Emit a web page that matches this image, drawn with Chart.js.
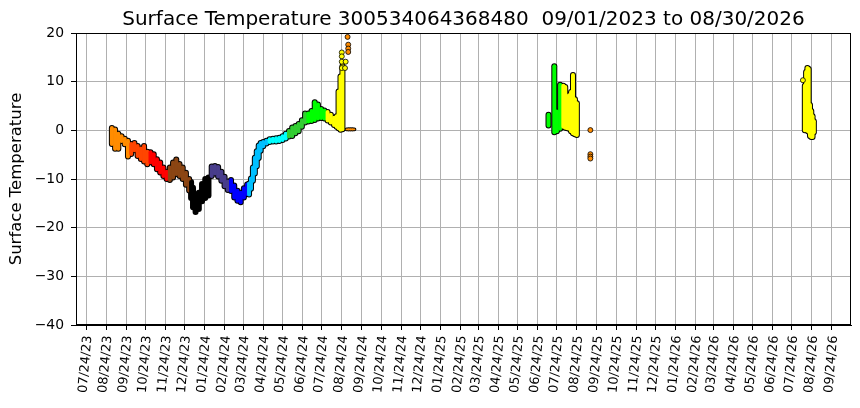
<!DOCTYPE html>
<html>
<head>
<meta charset="utf-8">
<script src="https://cdn.jsdelivr.net/npm/chart.js@4.4.0/dist/chart.umd.min.js"></script>
<style>
html, body { margin: 0; padding: 0; background: #ffffff; }
canvas { display: block; }
</style>
</head>
<body>
<canvas id="chart" width="860" height="408"></canvas>
<script>
// ---------------- data ----------------
const titleText = 'Surface Temperature 300534064368480  09/01/2023 to 08/30/2026';
const yAxisLabel = 'Surface Temperature';
const dataStart = '2023-09-01';
const dataEnd = '2026-08-30';

const xTickLabels = [
  '07/24/23','08/24/23','09/24/23','10/24/23','11/24/23','12/24/23',
  '01/24/24','02/24/24','03/24/24','04/24/24','05/24/24','06/24/24',
  '07/24/24','08/24/24','09/24/24','10/24/24','11/24/24','12/24/24',
  '01/24/25','02/24/25','03/24/25','04/24/25','05/24/25','06/24/25',
  '07/24/25','08/24/25','09/24/25','10/24/25','11/24/25','12/24/25',
  '01/24/26','02/24/26','03/24/26','04/24/26','05/24/26','06/24/26',
  '07/24/26','08/24/26','09/24/26'
];
const yTicks = [20, 10, 0, -10, -20, -30, -40];

// colour of each calendar month (Jan .. Dec)
const monthColors = [
  '#000000', '#483D8B', '#0000FF', '#00BFFF', '#00FFFF', '#32CD32',
  '#00FF00', '#FFFF00', '#FF8C00', '#FF4500', '#FF0000', '#8B4513'
];

// spread of the temperature trace (low / high)
const bandDates = [
  '2023-09-02','2023-09-07','2023-09-12','2023-09-17','2023-09-22','2023-09-27',
  '2023-10-02','2023-10-07','2023-10-12','2023-10-17','2023-10-22','2023-10-27',
  '2023-11-01','2023-11-06','2023-11-11','2023-11-16','2023-11-21','2023-11-26',
  '2023-12-01','2023-12-06','2023-12-11','2023-12-16','2023-12-21','2023-12-26','2023-12-31',
  '2024-01-03','2024-01-06','2024-01-10','2024-01-15','2024-01-20','2024-01-25','2024-01-30',
  '2024-02-04','2024-02-09','2024-02-14','2024-02-19','2024-02-24','2024-02-29',
  '2024-03-05','2024-03-10','2024-03-15','2024-03-20','2024-03-25','2024-03-30',
  '2024-04-02','2024-04-05','2024-04-08','2024-04-11','2024-04-14','2024-04-17','2024-04-20','2024-04-24','2024-04-29',
  '2024-05-04','2024-05-09','2024-05-14','2024-05-19','2024-05-24','2024-05-29',
  '2024-06-03','2024-06-08','2024-06-13','2024-06-18','2024-06-23','2024-06-28',
  '2024-07-03','2024-07-08','2024-07-13','2024-07-18','2024-07-23','2024-07-28',
  '2024-08-02','2024-08-07','2024-08-12','2024-08-16','2024-08-19','2024-08-22','2024-08-25',
  '2024-09-02','2024-09-05','2024-09-08','2024-09-11',
  '2025-07-11','2025-07-20','2025-07-24','2025-07-29',
  '2025-08-03','2025-08-06','2025-08-09','2025-08-12','2025-08-15','2025-08-18','2025-08-21','2025-08-24',
  '2026-08-13','2026-08-15','2026-08-17','2026-08-19','2026-08-21','2026-08-23','2026-08-25','2026-08-27'
];
const bandLow = [
  -3.4, -4.4, -4.4, -2.8, -3.5, -6.0,
  -5.5, -4.7, -5.9, -6.5, -7.0, -7.6,
  -7.2, -7.6, -8.6, -9.3, -10.0, -10.6,
  -10.8, -10.3, -9.6, -10.0, -10.6, -11.8, -13.0,
  -14.5, -16.4, -17.4, -16.8, -15.2, -14.5, -14.0,
  -10.0, -9.5, -10.1, -11.0, -12.1, -12.9,
  -13.1, -14.4, -15.1, -15.4, -14.4, -13.7,
  -13.8, -12.6, -11.0, -9.5, -8.0, -6.3, -4.8, -3.9, -3.3,
  -3.0, -2.9, -2.9, -2.8, -2.6, -2.3,
  -1.9, -1.8, -1.2, -0.8, 0.0, 1.0,
  1.2, 1.3, 1.5, 1.8, 1.9, 1.8,
  1.4, 1.0, 0.5, 0.1, -0.2, -0.5, -0.4,
  -0.2, -0.2, -0.2, -0.2,
  0.4, -1.0, -0.8, -0.3,
  0.0, -0.1, -0.2, -0.3, -0.8, -1.2, -1.4, -1.6,
  -0.6, -0.6, -0.7, -0.9, -1.8, -2.0, -2.0, -1.0
];
const bandHigh = [
  1.1, 0.8, -0.1, -0.6, -1.1, -1.5,
  -2.2, -2.0, -2.6, -3.1, -2.6, -3.8,
  -3.9, -4.3, -5.3, -6.0, -7.0, -7.9,
  -7.0, -6.0, -5.4, -6.3, -7.0, -8.1, -9.4,
  -10.0, -11.2, -12.8, -12.2, -10.4, -9.4, -9.1,
  -6.8, -6.7, -6.9, -7.9, -8.9, -9.9,
  -9.6, -10.7, -11.8, -12.2, -11.3, -10.5,
  -10.3, -9.3, -7.0, -5.0, -3.7, -2.5, -2.0, -1.8, -1.5,
  -1.2, -1.1, -1.0, -0.9, -0.6, 0.0,
  0.5, 1.2, 1.5, 1.9, 2.7, 4.1,
  4.1, 4.6, 6.4, 5.9, 5.0, 4.7,
  4.4, 3.8, 3.2, 3.5, 8.6, 11.7, 13.8,
  0.6, 0.6, 0.6, 0.6,
  3.8, 13.8, 4.5, 10.0,
  9.8, 9.5, 7.6, 7.8, 8.5, 12.0, 7.0, 6.2,
  9.8, 12.6, 13.4, 13.2, 5.8, 4.6, 3.5, 2.5
];

// isolated readings
const dotDates = [
  '2024-08-24','2024-08-24','2024-08-24','2024-08-30','2024-08-24','2024-08-29',
  '2024-09-02','2024-09-03','2024-09-03','2024-09-03',
  '2025-09-14','2025-09-14','2025-09-14','2025-09-14',
  '2026-08-10'
];
const dotTemps = [
  16.0, 15.2, 14.1, 14.1, 12.8, 12.8,
  19.2, 17.6, 16.8, 16.1,
  0.05, -4.9, -5.4, -5.8,
  10.3
];

// ---------------- helpers ----------------
const DAY = 86400000;
const dayNum = s => Date.parse(s) / DAY;
const colorOf = s => monthColors[parseInt(s.slice(5, 7), 10) - 1];
const mdyToIso = s => '20' + s.slice(6, 8) + '-' + s.slice(0, 2) + '-' + s.slice(3, 5);
const tickValues = xTickLabels.map(l => dayNum(mdyToIso(l)));

const x0 = dayNum(dataStart), x1 = dayNum(dataEnd);
const pad = 0.05 * (x1 - x0);
const xMin = x0 - pad, xMax = x1 + pad;

const bandPoints = bandDates.map((d, i) => ({ x: dayNum(d), y: [bandLow[i], bandHigh[i]] }));
const bandColors = bandDates.map(colorOf);
const dotPoints = dotDates.map((d, i) => ({ x: dayNum(d), y: dotTemps[i] }));
const dotColors = dotDates.map(colorOf);

const FONT = 'DejaVu Sans';

// plot frame (all four spines) and title centred over the plot area
const frame = {
  id: 'frame',
  afterDatasetsDraw(chart) {
    const { ctx, chartArea: a } = chart;
    ctx.save();
    ctx.strokeStyle = '#000000';
    ctx.lineWidth = 1;
    const l = Math.round(a.left) + 0.5, t = Math.round(a.top) + 0.5;
    const r = Math.round(a.right) - 0.5, b = Math.round(a.bottom) - 0.5;
    ctx.strokeRect(l, t, r - l, b - t);
    ctx.restore();
  },
  afterDraw(chart) {
    const { ctx, chartArea: a } = chart;
    ctx.save();
    ctx.fillStyle = '#000000';
    ctx.font = '20px "' + FONT + '"';
    ctx.textAlign = 'center';
    ctx.textBaseline = 'alphabetic';
    ctx.fillText(titleText, (a.left + a.right) / 2, 25);
    ctx.restore();
  }
};

new Chart(document.getElementById('chart'), {
  type: 'bar',
  data: {
    datasets: [
      {
        type: 'scatter',
        data: dotPoints,
        pointBackgroundColor: dotColors,
        pointBorderColor: '#000000',
        pointBorderWidth: 0.8,
        pointRadius: 2.5,
        order: 0
      },
      {
        data: bandPoints,
        backgroundColor: bandColors,
        borderColor: 'rgba(0,0,0,0)',
        borderWidth: 1,
        borderSkipped: false,
        borderRadius: 3,
        barThickness: 6,
        inflateAmount: 0,
        grouped: false,
        order: 1
      },
      {
        data: bandPoints,
        backgroundColor: '#000000',
        borderWidth: 0,
        borderSkipped: false,
        borderRadius: 3,
        barThickness: 6,
        inflateAmount: 0,
        grouped: false,
        order: 2
      }
    ]
  },
  options: {
    responsive: false,
    animation: false,
    layout: { padding: { left: 0, right: 9, top: 33, bottom: 0 } },
    plugins: {
      legend: { display: false },
      tooltip: { enabled: false },
      title: { display: false }
    },
    scales: {
      x: {
        type: 'linear',
        min: xMin,
        max: xMax,
        offset: false,
        grid: { offset: false, color: '#b0b0b0', lineWidth: 1, drawTicks: true, tickLength: 5, tickColor: '#000000', tickWidth: 1 },
        border: { display: true, color: '#000000', width: 1 },
        ticks: {
          autoSkip: false,
          minRotation: 85,
          maxRotation: 85,
          padding: 5,
          labelOffset: 2,
          color: '#000000',
          font: { family: FONT, size: 12.8 },
          callback: (v, i) => xTickLabels[i]
        },
        afterBuildTicks: s => { s.ticks = tickValues.map(v => ({ value: v })); },
        afterFit: s => { s.height = 83; }
      },
      y: {
        min: -40,
        max: 20,
        grid: { color: '#b0b0b0', lineWidth: 1, tickLength: 5, tickColor: '#000000' },
        border: { display: true, color: '#000000', width: 1 },
        ticks: {
          padding: 7,
          color: '#000000',
          font: { family: FONT, size: 13.9 },
          callback: v => (v < 0 ? '\u2212' + Math.abs(v) : String(v))
        },
        afterBuildTicks: s => { s.ticks = yTicks.map(v => ({ value: v })); },
        title: {
          display: true,
          text: yAxisLabel,
          color: '#000000',
          font: { family: FONT, size: 16.5 },
          padding: { top: 7, bottom: 0 }
        },
        afterFit: s => { s.width = 76; }
      }
    }
  },
  plugins: [frame]
});
</script>
</body>
</html>
